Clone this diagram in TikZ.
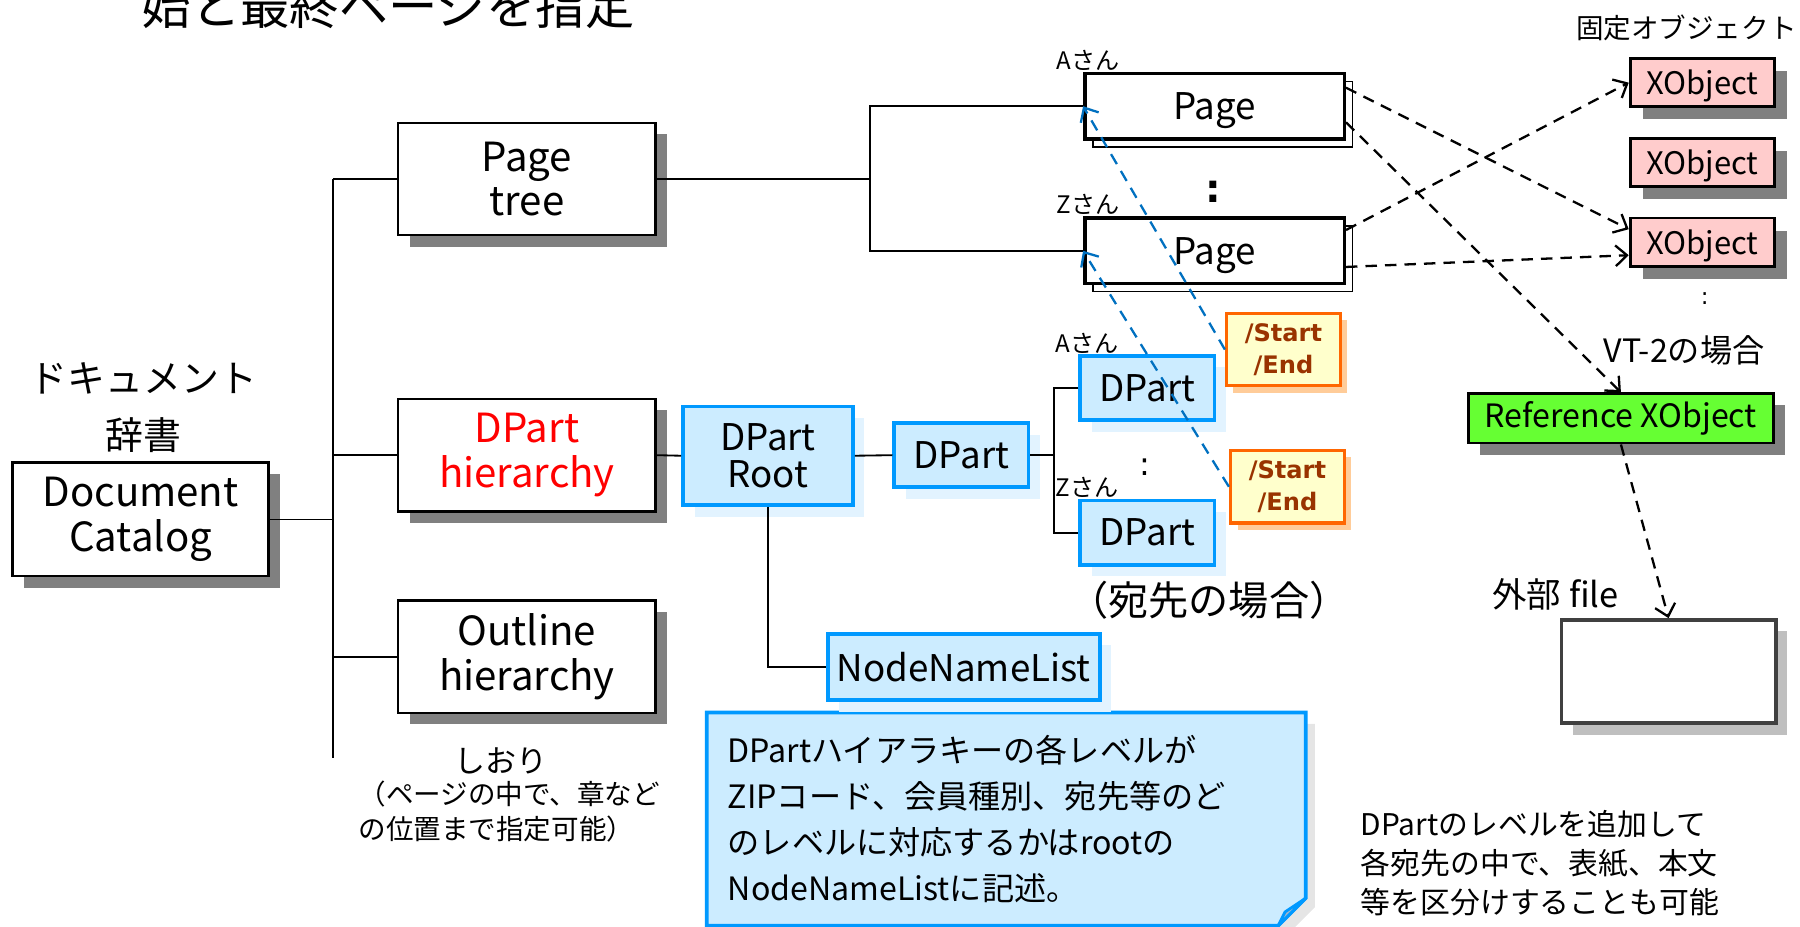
\documentclass[tikz,border=0pt]{standalone}
\usepackage{fontspec}
\setmainfont{Noto Sans CJK JP}
\newfontfamily\boldsans{DejaVu Sans}
\usetikzlibrary{shadows,arrows.meta,backgrounds,calc}
\definecolor{dpfill}{HTML}{CCECFF}
\definecolor{dpline}{HTML}{0099FF}
\definecolor{dpshade}{HTML}{E2F3FF}
\definecolor{xofill}{HTML}{FFCCCC}
\definecolor{refgreen}{HTML}{66FF33}
\definecolor{sefill}{HTML}{FFFFCC}
\definecolor{seline}{HTML}{FF6600}
\definecolor{setext}{HTML}{993300}
\definecolor{seshade}{HTML}{FFCC99}
\definecolor{linkblue}{HTML}{0070C0}
\definecolor{flapgray}{HTML}{9DB5CC}
\newcommand{\fsz}[2]{\fontsize{#1}{#2}\selectfont}
\tikzset{x=0.5pt,y=-0.5pt,
    every node/.style={inner sep=0pt,align=center},
    objbox/.style={draw,line width=1pt,fill=white,minimum width=112pt,minimum height=49pt,
        font=\fsz{17.5}{19.5},
        drop shadow={shadow xshift=5pt,shadow yshift=-5pt,fill=black!50,opacity=1}},
    pagebox/.style={draw,line width=1.5pt,fill=white,minimum width=113pt,minimum height=28.5pt,
        font=\fsz{16}{18},text depth=0pt,
        copy shadow={shadow xshift=3.5pt,shadow yshift=-3.5pt,draw=black,line width=0.7pt,fill=white}},
    xobox/.style={draw,line width=1.2pt,fill=xofill,minimum width=63pt,minimum height=21pt,
        font=\fsz{13.5}{16},text depth=0pt,
        drop shadow={shadow xshift=5.5pt,shadow yshift=-5.5pt,fill=black!50,opacity=1}},
    dpbox/.style={draw=dpline,line width=1.6pt,fill=dpfill,minimum width=58.5pt,minimum height=28pt,
        font=\fsz{16}{16.5},
        drop shadow={shadow xshift=5pt,shadow yshift=-5pt,fill=dpshade,opacity=1}},
    sebox/.style={draw=seline,line width=1.5pt,fill=sefill,minimum width=49.5pt,minimum height=31.5pt,
        text=setext,font=\boldsans\bfseries\fsz{10.5}{14},
        drop shadow={shadow xshift=3pt,shadow yshift=-3pt,fill=seshade,opacity=1}},
    treeline/.style={line width=0.8pt},
    refarrow/.style={line width=1pt,dash pattern=on 5pt off 3.5pt,-{Straight Barb[length=5pt,width=9pt]}},
    bluearrow/.style={refarrow,draw=linkblue},
    }
\begin{document}
\begin{tikzpicture}
\useasboundingbox (0,0) rectangle (1568,807);
% title, cut at the top
\node[anchor=base,font=\fsz{21.5}{24}] (title) at (338,21) {始と最終ページを指定};
\node[font=\fsz{16.5}{24.5}] (catlbl) at (125,355) {ドキュメント\\辞書};
\node[objbox,minimum width=111.5pt,minimum height=49.5pt] (cat) at (122.5,452.5) {Document\\Catalog};
\node[objbox] (ptree) at (459,156) {Page\\tree};
\node[objbox,text=red] (dph) at (459,396.5) {DPart\\hierarchy};
\node[objbox] (outl) at (459,572) {Outline\\hierarchy};
\node[font=\fsz{13.5}{16}] (shiori) at (436,663) {しおり};
\node[anchor=west,align=left,font=\fsz{12}{15.5}] (shnote) at (312,707) {（ページの中で、章など\\の位置まで指定可能）};
% trunk
\coordinate (trunk) at (290,156);
\coordinate (trunkend) at (290,660);
\draw[treeline] (trunk) -- (trunkend);
\draw[treeline] (cat.east) -- (cat.east -| trunk);
\draw[treeline] (trunk) -- (ptree.west);
\draw[treeline] (dph.west -| trunk) -- (dph.west);
\draw[treeline] (outl.west -| trunk) -- (outl.west);
% pages
\node[pagebox] (pgA) at (1058,92.5) {Page};
\node[pagebox] (pgZ) at (1058,218.5) {Page};
\node[font=\fsz{10.5}{12}] (pgAlbl) at (948,53) {Aさん};
\node[font=\fsz{10.5}{12}] (pgZlbl) at (948,178) {Zさん};
\node[font=\boldsans\bfseries\fsz{17}{18}] (pgdots) at (1057,167) {:};
\coordinate (pfork) at (758,156);
\draw[treeline] (ptree.east) -- (pfork);
\draw[treeline] (pgA.west) -| (pfork) |- (pgZ.west);
% fixed objects
\node[font=\fsz{12}{14}] (fixlbl) at (1469,24) {固定オブジェクト};
\node[xobox] (xo1) at (1483,72) {XObject};
\node[xobox] (xo2) at (1483,141.5) {XObject};
\node[xobox] (xo3) at (1483,211) {XObject};
\node[font=\boldsans\fsz{10}{12}] (xodots) at (1485,260) {:};
\node[font=\fsz{14}{16}] (vtlbl) at (1467,305) {VT-2の場合};
\node[draw,line width=1.2pt,fill=refgreen,minimum width=133pt,minimum height=21.5pt,font=\fsz{14}{16},
    drop shadow={shadow xshift=5pt,shadow yshift=-5pt,fill=black!50,opacity=1}] (refxo) at (1412,364.5) {Reference XObject};
\node[font=\fsz{15}{17}] (extlbl) at (1355,518) {外部 file};
\node[draw=black!75,line width=1.5pt,fill=white,minimum width=93.5pt,minimum height=45pt,
    drop shadow={shadow xshift=5pt,shadow yshift=-5pt,fill=black!25,opacity=1}] (extfile) at (1453.5,585) {};
% DPart tree
\node[dpbox,minimum width=74pt,minimum height=43pt] (dproot) at (669,397) {DPart\\Root};
\node[dpbox] (dpmid) at (837.5,396.5) {DPart};
\node[dpbox] (dpA) at (999.5,338) {DPart};
\node[dpbox] (dpZ) at (999.5,464) {DPart};
\node[dpbox,minimum width=118.5pt,minimum height=29pt] (nnl) at (839.5,581) {NodeNameList};
\node[font=\fsz{10.5}{12}] (dpAlbl) at (947,299) {Aさん};
\node[font=\fsz{10.5}{12}] (dpZlbl) at (947,425) {Zさん};
\node[font=\boldsans\fsz{14}{16}] (dpdots) at (997,407) {:};
\node[font=\fsz{17.5}{19}] (destlbl) at (1053,523) {（宛先の場合）};
\coordinate (dfork) at (918,396.5);
\draw[treeline] (dph.east) -- (dproot.west);
\draw[treeline] (dproot.east) -- (dpmid.west);
\draw[treeline] (dpmid.east) -- (dfork);
\draw[treeline] (dpA.west) -| (dfork) |- (dpZ.west);
\draw[treeline] (dproot.south) |- (nnl.west);
\node[sebox] (se1) at (1118,304.5) {/Start\\/End};
\node[sebox] (se2) at (1121.5,424) {/Start\\/End};
% note with folded corner
\node[text width=242.5pt,inner xsep=9pt,minimum height=92.5pt,align=left,font=\fsz{14}{20}] (note) at (876.5,713.5)
    {DPartハイアラキーの各レベルが\\ZIPコード、会員種別、宛先等のど\\のレベルに対応するかはrootの\\NodeNameListに記述。};
\begin{scope}[on background layer]
  \fill[black!10] ($(note.north west)+(10,10)$) -- ($(note.north east)+(8,10)$) -- ($(note.south east)+(8,-16)$)
      -- ($(note.south east)+(-16,8)$) -- ($(note.south west)+(10,8)$) -- cycle;
  \draw[draw=dpline,line width=1.6pt,fill=dpfill] (note.north west) -- (note.north east) -- ($(note.south east)+(0,-24)$)
      -- ($(note.south east)+(-24,0)$) -- (note.south west) -- cycle;
  \draw[draw=dpline,line width=1.2pt,fill=flapgray] ($(note.south east)+(0,-24)$) -- ($(note.south east)+(-18,-12)$)
      -- ($(note.south east)+(-24,0)$) -- cycle;
\end{scope}
\node[anchor=west,align=left,font=\fsz{13}{17}] (addnote) at (1185,752)
    {DPartのレベルを追加して\\各宛先の中で、表紙、本文\\等を区分けすることも可能};
% references
\draw[refarrow] (pgA.8) -- (xo3.170);
\draw[refarrow] (pgA.353) -- (refxo.north);
\draw[refarrow] (pgZ.9) -- (xo1.west);
\draw[refarrow] (pgZ.353) -- (xo3.190);
\draw[refarrow] (refxo.south) -- (extfile.north);
\draw[bluearrow] (se1.west) -- (pgA.west);
\draw[bluearrow] (se2.west) -- (pgZ.west);
%\draw[bluearrow] (dpA.east) -- (se1.west);
\end{tikzpicture}
\end{document}
